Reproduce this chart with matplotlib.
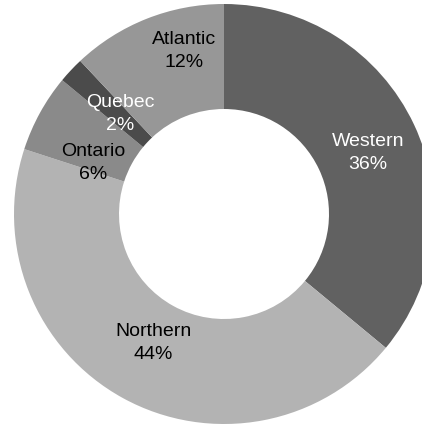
import matplotlib
matplotlib.use("Agg")
import matplotlib.pyplot as plt
from matplotlib import font_manager

regions = ["Western", "Northern", "Ontario", "Quebec", "Atlantic"]
shares = [36, 44, 6, 2, 12]
colors = ["#616161", "#b3b3b3", "#8a8a8a", "#4b4b4b", "#979797"]
label_colors = ["white", "black", "black", "white", "black"]

# label anchor points in figure pixels (x from left, y from top)
label_px = [(368, 153), (153, 343), (93, 163), (120, 114), (184, 51)]

names = {f.name for f in font_manager.fontManager.ttflist}
family = ["Liberation Sans Narrow", "DejaVu Sans"] if "Liberation Sans Narrow" in names else ["Liberation Sans", "DejaVu Sans"]

W, H = 422, 424
fig = plt.figure(figsize=(W / 100, H / 100), dpi=100)
ax = fig.add_axes([0.0, 0.0, 1.0, 1.0])

wedges, _ = ax.pie(
    shares,
    colors=colors,
    startangle=90,
    counterclock=False,
    radius=1.0,
    wedgeprops=dict(width=0.5, edgecolor="none"),
)

# place the ring so the figure crops it on the right
cx_px, cy_px, r_px = 224, 214, 210
ax.set_xlim(-cx_px / r_px, (W - cx_px) / r_px)
ax.set_ylim(-(H - cy_px) / r_px, cy_px / r_px)
ax.set_aspect("equal")
ax.axis("off")

for name, val, tc, (px, py) in zip(regions, shares, label_colors, label_px):
    x = (px - cx_px) / r_px
    y = (cy_px - py) / r_px
    ax.text(x, y, f"{name}\n{val}%", ha="center", va="center",
            color=tc, fontsize=14, family=family, linespacing=1.45)

fig.savefig("out.png", dpi=100)
